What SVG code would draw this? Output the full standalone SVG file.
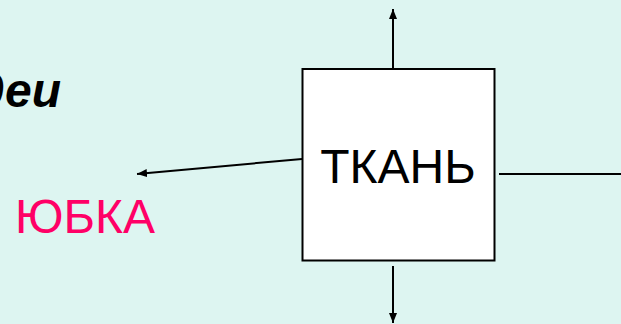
<svg xmlns="http://www.w3.org/2000/svg" width="621" height="324" viewBox="0 0 621 324">
<style>
.lbl{font-family:"Liberation Sans",Arial,sans-serif;font-size:48px}
.conn{stroke:#000;stroke-width:2;fill:none}
</style>
<defs>
<marker id="ah" viewBox="0 0 10 8" refX="10" refY="4" markerWidth="10" markerHeight="8" markerUnits="userSpaceOnUse" orient="auto">
<path d="M0,0 L10,4 L0,8 Z" fill="#000"/>
</marker>
</defs>
<rect width="621" height="324" fill="#DDF5F1"/>
<g id="title">
<text class="lbl" x="61" y="107" text-anchor="end" font-weight="bold" font-style="italic" fill="#000">деи</text>
</g>
<g id="connectors">
<line class="conn" x1="393" y1="68" x2="393" y2="9" marker-end="url(#ah)"/>
<line class="conn" x1="393" y1="266" x2="393" y2="323" marker-end="url(#ah)"/>
<line class="conn" x1="302" y1="159" x2="137" y2="174" marker-end="url(#ah)"/>
<line class="conn" x1="499" y1="174" x2="621" y2="174"/>
</g>
<g id="node-tkan">
<rect x="302.5" y="69" width="192" height="191.5" fill="#fff" stroke="#000" stroke-width="2"/>
<text class="lbl" x="398" y="183" text-anchor="middle" fill="#000">ТКАНЬ</text>
</g>
<g id="node-yubka">
<text class="lbl" x="85" y="233" text-anchor="middle" fill="#FF0066">ЮБКА</text>
</g>
</svg>
